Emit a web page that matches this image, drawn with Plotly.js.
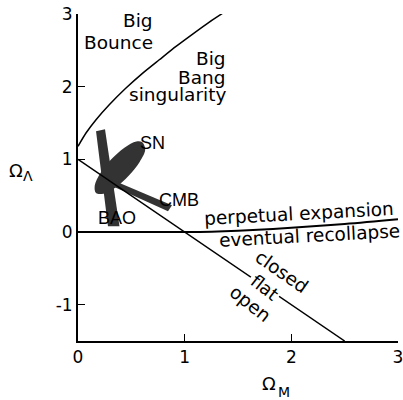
<!DOCTYPE html>
<html>
<head>
<meta charset="utf-8">
<script src="https://cdn.plot.ly/plotly-3.0.1.min.js"></script>
<style>html,body{margin:0;padding:0;background:#fff}#chart{width:403px;height:400px}</style>
</head>
<body>
<div id="chart"></div>
<script>
// Big Bang / Big Bounce boundary
const bangX = [0, 0.075, 0.169, 0.293, 0.45, 0.607, 0.762, 0.919, 1.075, 1.231, 1.372];
const bangY = [1.18, 1.362, 1.545, 1.751, 1.981, 2.187, 2.37, 2.554, 2.724, 2.889, 3.026];
// Flat universe line
const flatX = [0, 2.5];
const flatY = [1, -1.5];
// Expansion / recollapse boundary
const recX = [0, 1, 1.25, 1.5, 2, 2.5, 3];
const recY = [0, 0, 0.005, 0.018, 0.058, 0.11, 0.175];
// Constraint regions (outlines)
const baoX = [0.169, 0.253, 0.389, 0.281];
const baoY = [1.385, 1.413, 0.079, 0.079];
const snX = [0.600, 0.630, 0.578, 0.475, 0.352, 0.240, 0.169, 0.157, 0.210, 0.312, 0.435, 0.547, 0.600];
const snY = [1.238, 1.134, 0.965, 0.775, 0.613, 0.527, 0.536, 0.641, 0.810, 1.000, 1.161, 1.247, 1.238];
const cmbX = [0.2625, 0.881, 0.844, 0.2625];
const cmbY = [0.754, 0.368, 0.286, 0.672];
// Tick labels
const xTickVals = [0, 1, 2, 3];
const xTickText = ['0', '1', '2', '3'];
const yTickVals = [-1, 0, 1, 2, 3];
const yTickText = ['-1', '0', '1', '2', '3'];

const fillCol = '#333333';
const traces = [
  {x: baoX, y: baoY, mode: 'lines', fill: 'toself', fillcolor: fillCol, line: {width: 0, color: fillCol}, hoverinfo: 'skip'},
  {x: snX, y: snY, mode: 'lines', fill: 'toself', fillcolor: fillCol, line: {width: 0, color: fillCol, shape: 'spline'}, hoverinfo: 'skip'},
  {x: cmbX, y: cmbY, mode: 'lines', fill: 'toself', fillcolor: fillCol, line: {width: 0, color: fillCol}, hoverinfo: 'skip'},
  {x: bangX, y: bangY, mode: 'lines', line: {color: '#000', width: 1.5, shape: 'spline', smoothing: 0.6}, hoverinfo: 'skip'},
  {x: flatX, y: flatY, mode: 'lines', line: {color: '#000', width: 1.5}, hoverinfo: 'skip'},
  {x: recX, y: recY, mode: 'lines', line: {color: '#000', width: 2, shape: 'spline'}, hoverinfo: 'skip'}
];

const F = 'DejaVu Sans';
const A = 'Liberation Sans';
const FS = 18.5;
function ann(text, x, y, opts) {
  return Object.assign({text: text, x: x, y: y, xref: 'x', yref: 'y', showarrow: false,
    font: {family: F, size: FS, color: '#000'}}, opts || {});
}
function pann(text, x, y, size) {
  return {text: text, x: x, y: y, xref: 'paper', yref: 'paper', xanchor: 'left', yanchor: 'middle',
    showarrow: false, font: {family: F, size: size, color: '#000'}};
}
const annotations = [
  ann('flat', 1.753, -0.763, {textangle: 38, bgcolor: '#fff', borderpad: 2, font: {family: F, size: 18, color: '#000'}}),
  ann('Big', 0.722, 2.916, {xanchor: 'right'}),
  ann('Bounce', 0.722, 2.613, {xanchor: 'right'}),
  ann('Big', 1.409, 2.389, {xanchor: 'right'}),
  ann('Bang', 1.409, 2.121, {xanchor: 'right'}),
  ann('singularity', 1.409, 1.895, {xanchor: 'right'}),
  ann('SN', 0.701, 1.22, {font: {family: A, size: 18, color: '#000'}}),
  ann('CMB', 0.945, 0.44, {font: {family: A, size: 18, color: '#000'}}),
  ann('BAO', 0.366, 0.186, {font: {family: A, size: 18, color: '#000'}}),
  ann('perpetual expansion', 2.068, 0.255, {textangle: -3}),
  ann('eventual recollapse', 2.172, -0.05, {textangle: -3}),
  ann('closed', 1.908, -0.546, {textangle: 35}),
  ann('open', 1.612, -0.99, {textangle: 38}),
  pann('Ω', -0.222, 0.52, 18),
  pann('Λ', -0.178, 0.505, 14),
  pann('Ω', 0.569, -0.131, 18),
  pann('M', 0.619, -0.157, 14)
];

const axisCommon = {ticks: 'inside', ticklen: 7, tickwidth: 1.5, tickcolor: '#000',
  showline: true, linecolor: '#000', linewidth: 2, showgrid: false, zeroline: false, fixedrange: true,
  ticklabeloverflow: 'allow', tickfont: {family: F, size: 17, color: '#000'}};

const layout = {
  width: 403, height: 400,
  margin: {l: 78, r: 5, t: 14, b: 59},
  paper_bgcolor: '#fff', plot_bgcolor: '#fff',
  showlegend: false,
  font: {family: F, size: 17, color: '#000'},
  xaxis: Object.assign({range: [0, 3], tickmode: 'array', tickvals: xTickVals, ticktext: xTickText}, axisCommon),
  yaxis: Object.assign({range: [-1.5, 3], tickmode: 'array', tickvals: yTickVals, ticktext: yTickText}, axisCommon),
  annotations: annotations
};
Plotly.newPlot('chart', traces, layout, {staticPlot: true});
</script>
</body>
</html>
